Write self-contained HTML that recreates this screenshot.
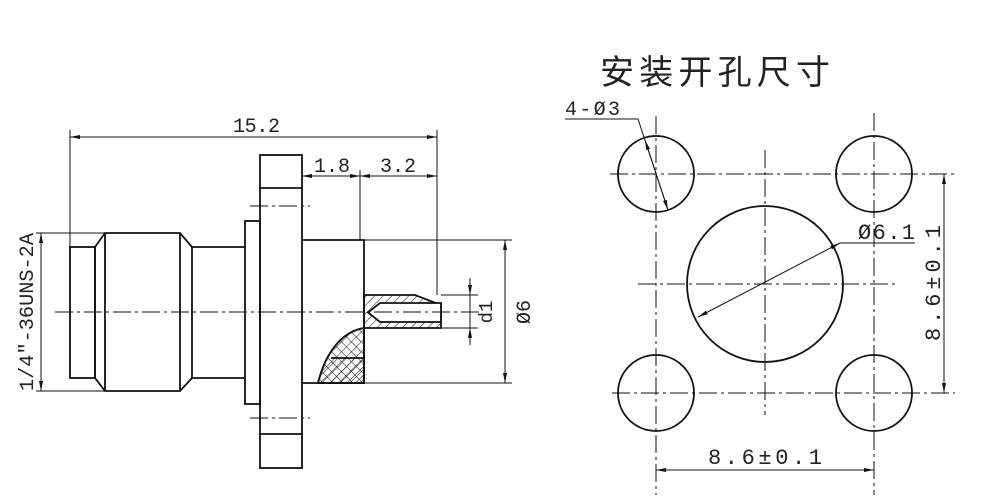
<!DOCTYPE html>
<html><head><meta charset="utf-8"><style>
html,body{margin:0;padding:0;background:#fff;}
svg{display:block}
text{font-family:"Liberation Mono","DejaVu Sans Mono",monospace;fill:#222}
</style></head><body>
<svg width="1000" height="503" viewBox="0 0 1000 503" xmlns="http://www.w3.org/2000/svg">
<defs>
<pattern id="h1" width="6" height="6" patternUnits="userSpaceOnUse" patternTransform="rotate(45)"><line x1="0" y1="0" x2="0" y2="6" stroke="#111" stroke-width="1"/></pattern>
<pattern id="h2" width="7" height="7" patternUnits="userSpaceOnUse" patternTransform="rotate(45)"><line x1="0" y1="0" x2="0" y2="7" stroke="#111" stroke-width="1"/><line x1="0" y1="0" x2="7" y2="0" stroke="#111" stroke-width="1"/></pattern>
<marker id="a" viewBox="0 0 10 4" refX="10" refY="2" markerWidth="10" markerHeight="4" orient="auto-start-reverse" markerUnits="userSpaceOnUse"><path d="M0,0 L10,2 L0,4z" fill="#111"/></marker>
</defs>
<g stroke="#111" fill="none" stroke-width="1.8">
<rect x="70" y="247" width="25" height="131"/>
<path d="M95,247 L105,233 L180,233 L192,247 L192,378 L180,391 L105,391 L95,378 Z"/>
<line x1="105" y1="233" x2="105" y2="391"/><line x1="180" y1="233" x2="180" y2="391"/>
<path d="M192,247 L245,247 M192,378 L245,378"/>
<rect x="245" y="221" width="15" height="183"/>
<rect x="260" y="155" width="42" height="313"/>
<line x1="260" y1="188" x2="302" y2="188"/><line x1="260" y1="434" x2="302" y2="434"/>
<path d="M302,240 L364,240 L364,383 L302,383"/>
<path d="M364,295 L415,295 L441,305 L441,328 L364,328 Z" fill="url(#h1)"/>
<path d="M380,303 L441,303 L441,322 L380,322 L368,312.5 Z" fill="#fff"/>
<path d="M364,328 C340,332 325,355 318,383 L364,383 Z" fill="url(#h2)"/>
<path d="M331,358 L364,358 L364,383 L318,383 C322,372 326,364 331,358 Z" fill="url(#h1)" stroke="none"/>
<path d="M364,328 C340,332 325,355 318,383 L364,383 Z"/>
<line x1="331" y1="358" x2="364" y2="358"/>
</g>
<g stroke="#111" fill="none" stroke-width="1">
<line x1="70" y1="130" x2="70" y2="247"/>
<line x1="437" y1="130" x2="437" y2="295"/>
<line x1="70" y1="137" x2="437" y2="137" marker-start="url(#a)" marker-end="url(#a)"/>
<line x1="360" y1="170" x2="360" y2="240"/>
<line x1="302" y1="176" x2="360" y2="176" marker-start="url(#a)" marker-end="url(#a)"/>
<line x1="360" y1="176" x2="437" y2="176" marker-start="url(#a)" marker-end="url(#a)"/>
<line x1="364" y1="240" x2="512" y2="240"/><line x1="364" y1="383" x2="512" y2="383"/>
<line x1="505" y1="240" x2="505" y2="383" marker-start="url(#a)" marker-end="url(#a)"/>
<line x1="441" y1="295" x2="478" y2="295"/><line x1="441" y1="328" x2="478" y2="328"/>
<line x1="470" y1="278" x2="470" y2="295" marker-end="url(#a)"/>
<line x1="470" y1="345" x2="470" y2="328" marker-end="url(#a)"/>
<line x1="470" y1="295" x2="470" y2="328"/>
<line x1="36" y1="233" x2="105" y2="233"/><line x1="36" y1="391" x2="105" y2="391"/>
<line x1="41" y1="233" x2="41" y2="391" marker-start="url(#a)" marker-end="url(#a)"/>
<g stroke-dasharray="18,4,3,4">
<line x1="55" y1="312" x2="480" y2="312"/>
<line x1="250" y1="206" x2="310" y2="206"/><line x1="250" y1="418" x2="310" y2="418"/>
</g>
</g>
<text x="233" y="132" font-size="20" textLength="47" lengthAdjust="spacing">15.2</text>
<text x="314" y="172" font-size="20" textLength="36" lengthAdjust="spacing">1.8</text>
<text x="380" y="172" font-size="20" textLength="36" lengthAdjust="spacing">3.2</text>
<text transform="translate(492,312) rotate(-90)" font-size="19" text-anchor="middle" font-family="Liberation Serif,serif">d1</text>
<text transform="translate(530,312) rotate(-90)" font-size="20" text-anchor="middle">Ø6</text>
<text transform="translate(33,391) rotate(-90)" font-size="20" font-family="Liberation Serif,serif" textLength="158" lengthAdjust="spacingAndGlyphs">1/4″-36UNS-2A</text>

<text x="600" y="84" font-size="34" textLength="230" lengthAdjust="spacing" style="font-family:'Liberation Sans','Noto Sans CJK SC',sans-serif">安装开孔尺寸</text>
<g stroke="#111" fill="none" stroke-width="1.8">
<circle cx="656" cy="174" r="38"/><circle cx="874" cy="174" r="38"/>
<circle cx="656" cy="393" r="38"/><circle cx="874" cy="393" r="38"/>
<circle cx="765" cy="284" r="78"/>
</g>
<g stroke="#111" fill="none" stroke-width="1">
<g stroke-dasharray="18,4,3,4">
<line x1="656" y1="116" x2="656" y2="495"/><line x1="874" y1="113" x2="874" y2="495"/>
<line x1="610" y1="174" x2="955" y2="174"/><line x1="612" y1="393" x2="955" y2="393"/>
<line x1="765" y1="150" x2="765" y2="415"/><line x1="638" y1="284" x2="895" y2="284"/>
</g>
<path d="M565,119 L638,119 L668,210" />
<line x1="645" y1="140" x2="668" y2="210" marker-start="url(#a)" marker-end="url(#a)"/>
<line x1="698" y1="317" x2="840" y2="243" marker-start="url(#a)" marker-end="url(#a)"/>
<line x1="840" y1="243" x2="915" y2="243"/>
<line x1="944" y1="174" x2="944" y2="393" marker-start="url(#a)" marker-end="url(#a)"/>
<line x1="656" y1="470" x2="874" y2="470" marker-start="url(#a)" marker-end="url(#a)"/>
</g>
<text x="565" y="115" font-size="20" font-family="Liberation Serif,serif" textLength="55" lengthAdjust="spacing">4-Ø3</text>
<text x="858" y="239" font-size="22" textLength="57" lengthAdjust="spacing">Ø6.1</text>
<text transform="translate(940,341) rotate(-90)" font-size="22" textLength="116" lengthAdjust="spacing">8.6±0.1</text>
<text x="708" y="464" font-size="22" textLength="114" lengthAdjust="spacing">8.6±0.1</text>
</svg>
</body></html>
